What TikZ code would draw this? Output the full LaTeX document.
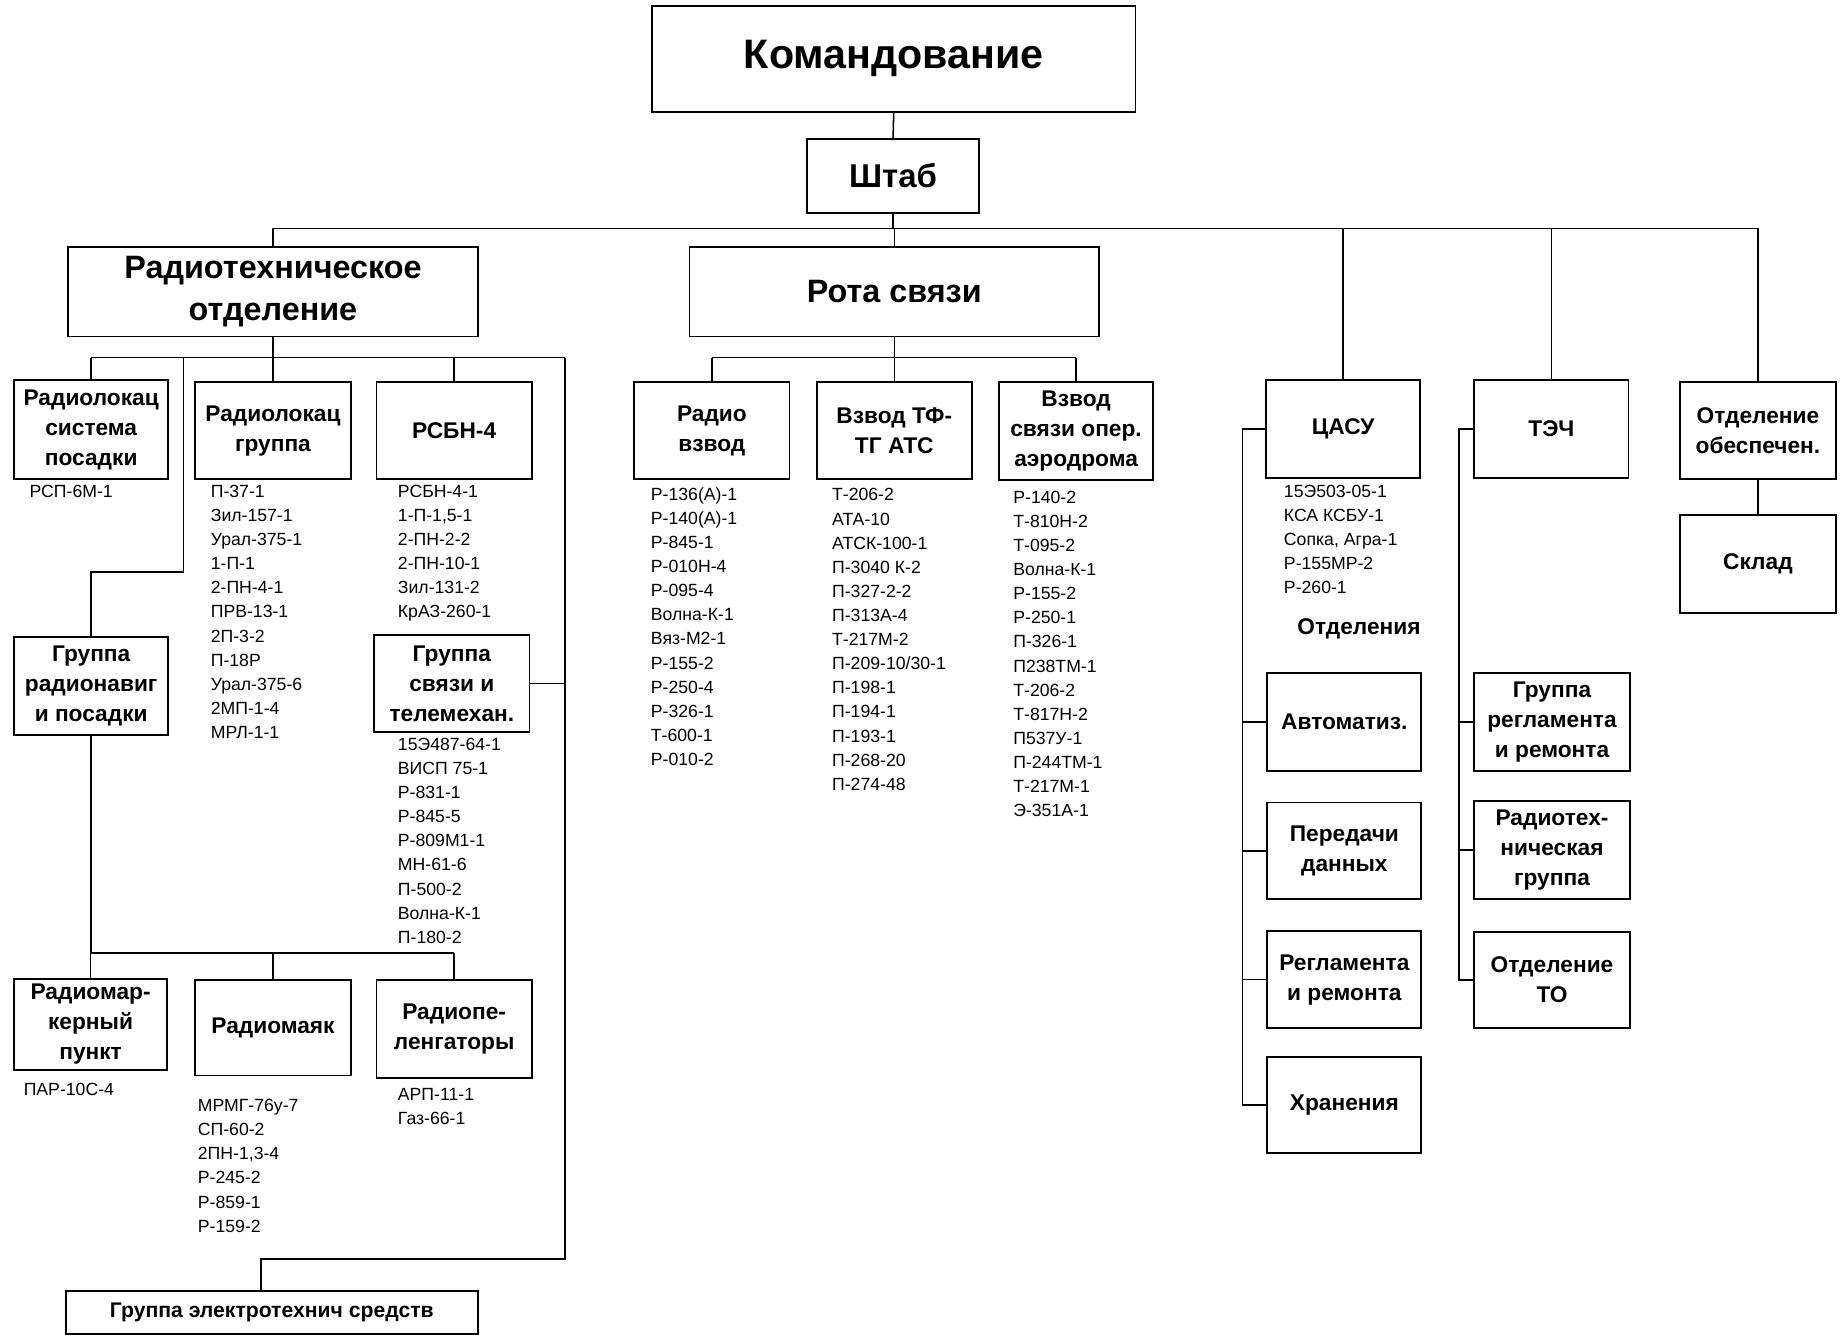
\documentclass[tikz,border=0pt]{standalone}
\usepackage{fontspec}
\setmainfont{Liberation Sans}
\newcommand\bxfont{\fontsize{19.3}{25.5}\selectfont\bfseries}
\newcommand\bigfont{\fontsize{27.5}{36}\selectfont\bfseries}
\begin{document}
\begin{tikzpicture}[x=1pt,y=-1pt,
  box/.style={draw, line width=1.6pt, align=center, inner sep=1pt, font=\bxfont},
  conn/.style={line width=1.3pt},
  lst/.style={anchor=north west, inner sep=0pt, align=left, font=\fontsize{15}{20.5}\selectfont}]
\useasboundingbox (0,0) rectangle (1568,1136);
% top
\node[box, minimum width=411, minimum height=90, font=\fontsize{35}{40}\selectfont\bfseries] (kom) at (759.5,50) {Командование};
\node[box, minimum width=146, minimum height=63, font=\fontsize{28}{32}\selectfont\bfseries] (shtab) at (759,149.5) {Штаб};
\node[box, minimum width=348, minimum height=76, font=\bigfont] (rto) at (232,248) {Радиотехническое\\отделение};
\node[box, minimum width=348, minimum height=76, font=\bigfont] (rota) at (760,248) {Рота связи};
% left section
\node[box, minimum width=131, minimum height=84] (rls) at (77.5,365) {Радиолокац\\система\\посадки};
\node[box, minimum width=132, minimum height=82] (rlg) at (232,366) {Радиолокац\\группа};
\node[box, minimum width=132, minimum height=82] (rsbn) at (386,366) {РСБН-4};
\node[box, minimum width=132, minimum height=82] (gst) at (384,581) {Группа\\связи и\\телемехан.};
\node[box, minimum width=131, minimum height=84] (grn) at (77.5,583) {Группа\\радионавиг\\и посадки};
\node[box, minimum width=130, minimum height=77] (rmk) at (77,870.5) {Радиомар-\\керный\\пункт};
\node[box, minimum width=132, minimum height=81] (rmayak) at (232,873.5) {Радиомаяк};
\node[box, minimum width=132, minimum height=83] (rpel) at (386,874.5) {Радиопе-\\ленгаторы};
\node[box, minimum width=350, minimum height=37, font=\fontsize{18}{22}\selectfont\bfseries] (get) at (231,1115.5) {Группа электротехнич средств};
% middle section
\node[box, minimum width=132, minimum height=82] (rvz) at (605,366) {Радио\\взвод};
\node[box, minimum width=132, minimum height=82] (vtf) at (760,366) {Взвод ТФ-\\ТГ АТС};
\node[box, minimum width=131, minimum height=83] (vso) at (914.5,366.5) {Взвод\\связи опер.\\аэродрома};
% right section
\node[box, minimum width=131, minimum height=83] (casu) at (1141.5,364.5) {ЦАСУ};
\node[box, minimum width=131, minimum height=83] (tech) at (1318.5,364.5) {ТЭЧ};
\node[box, minimum width=132, minimum height=82] (otdob) at (1494,366) {Отделение\\обеспечен.};
\node[box, minimum width=132, minimum height=83] (sklad) at (1494,479.5) {Склад};
\node[box, minimum width=131, minimum height=83] (avt) at (1142.5,613.5) {Автоматиз.};
\node[box, minimum width=131, minimum height=82] (pered) at (1142.5,723) {Передачи\\данных};
\node[box, minimum width=131, minimum height=83] (reglr) at (1142.5,832.5) {Регламента\\и ремонта};
\node[box, minimum width=131, minimum height=82] (hran) at (1142.5,939) {Хранения};
\node[box, minimum width=132, minimum height=83] (grr) at (1319,613.5) {Группа\\регламента\\и ремонта};
\node[box, minimum width=132, minimum height=83] (rtg) at (1319,722.5) {Радиотех-\\ническая\\группа};
\node[box, minimum width=132, minimum height=82] (otdto) at (1319,833) {Отделение\\ТО};
\node[font=\bxfont] (otdl) at (1155,534) {Отделения};
% lists
\node[lst] (lrsp) at (25,412) {РСП-6М-1};
\node[lst] (lrlg) at (179,412) {П-37-1\\Зил-157-1\\Урал-375-1\\1-П-1\\2-ПН-4-1\\ПРВ-13-1\\2П-3-2\\П-18Р\\Урал-375-6\\2МП-1-4\\МРЛ-1-1};
\node[lst] (lrsbn) at (338,412) {РСБН-4-1\\1-П-1,5-1\\2-ПН-2-2\\2-ПН-10-1\\Зил-131-2\\КрАЗ-260-1};
\node[lst] (lgst) at (338,627) {15Э487-64-1\\ВИСП 75-1\\Р-831-1\\Р-845-5\\Р-809М1-1\\МН-61-6\\П-500-2\\Волна-К-1\\П-180-2};
\node[lst] (lpar) at (20,920) {ПАР-10С-4};
\node[lst] (lrmayak) at (168,934) {МРМГ-76у-7\\СП-60-2\\2ПН-1,3-4\\Р-245-2\\Р-859-1\\Р-159-2};
\node[lst] (lrpel) at (338,925) {АРП-11-1\\Газ-66-1};
\node[lst] (lrvz) at (553,414) {Р-136(А)-1\\Р-140(А)-1\\Р-845-1\\Р-010Н-4\\Р-095-4\\Волна-К-1\\Вяз-М2-1\\Р-155-2\\Р-250-4\\Р-326-1\\Т-600-1\\Р-010-2};
\node[lst] (lvtf) at (707,415) {Т-206-2\\АТА-10\\АТСК-100-1\\П-3040 К-2\\П-327-2-2\\П-313А-4\\Т-217М-2\\П-209-10/30-1\\П-198-1\\П-194-1\\П-193-1\\П-268-20\\П-274-48};
\node[lst] (lvso) at (861,417) {Р-140-2\\Т-810Н-2\\Т-095-2\\Волна-К-1\\Р-155-2\\Р-250-1\\П-326-1\\П238ТМ-1\\Т-206-2\\Т-817Н-2\\П537У-1\\П-244ТМ-1\\Т-217М-1\\Э-351А-1};
\node[lst] (lcasu) at (1091,412) {15Э503-05-1\\КСА КСБУ-1\\Сопка, Агра-1\\Р-155МР-2\\Р-260-1};
% connectors
\coordinate (busL) at (232,194);
\coordinate (busR) at (1494,194);
\coordinate (b2L) at (77.5,304);
\coordinate (b2R) at (480,304);
\coordinate (bj) at (156,486);
\coordinate (gj) at (222,1070);
\coordinate (b3L) at (77,810);
\coordinate (b3R) at (386,810);
\coordinate (b4L) at (605,304);
\coordinate (b4R) at (914.5,304);
\coordinate (ct) at (1056,364.5);
\coordinate (tt) at (1240,364.5);
\begin{scope}[conn]
\draw (kom.south) -- (shtab.north);
\draw (busL) -- (busR);
\draw (shtab.south) -- (shtab.south |- busL);
\draw (rto.north) -- (rto.north |- busL);
\draw (rota.north) -- (rota.north |- busL);
\draw (casu.north) -- (casu.north |- busL);
\draw (tech.north) -- (tech.north |- busL);
\draw (otdob.north) -- (otdob.north |- busL);
% radiotech
\draw (b2L) -- (b2R);
\draw (rto.south) -- (rto.south |- b2L);
\draw (rls.north) -- (rls.north |- b2L);
\draw (rlg.north) -- (rlg.north |- b2L);
\draw (rsbn.north) -- (rsbn.north |- b2L);
\draw (grn.north) |- (bj) -- (bj |- b2L);
\draw (b2R) |- (gj) -- (gj |- get.north);
\draw (gst.east) -- (gst.east -| b2R);
\draw (b3L) -- (b3R);
\draw (grn.south) -- (grn.south |- b3L);
\draw (rmk.north) -- (rmk.north |- b3L);
\draw (rmayak.north) -- (rmayak.north |- b3L);
\draw (rpel.north) -- (rpel.north |- b3L);
% rota
\draw (b4L) -- (b4R);
\draw (rota.south) -- (rota.south |- b4L);
\draw (rvz.north) -- (rvz.north |- b4L);
\draw (vtf.north) -- (vtf.north |- b4L);
\draw (vso.north) -- (vso.north |- b4L);
% casu
\draw (casu.west) -- (ct) |- (hran.west);
\draw (avt.west) -- (avt.west -| ct);
\draw (pered.west) -- (pered.west -| ct);
\draw (reglr.west) -- (reglr.west -| ct);
% tech
\draw (tech.west) -- (tt) |- (otdto.west);
\draw (grr.west) -- (grr.west -| tt);
\draw (rtg.west) -- (rtg.west -| tt);
% otdob
\draw (otdob.south) -- (sklad.north);
\end{scope}
\end{tikzpicture}
\end{document}
